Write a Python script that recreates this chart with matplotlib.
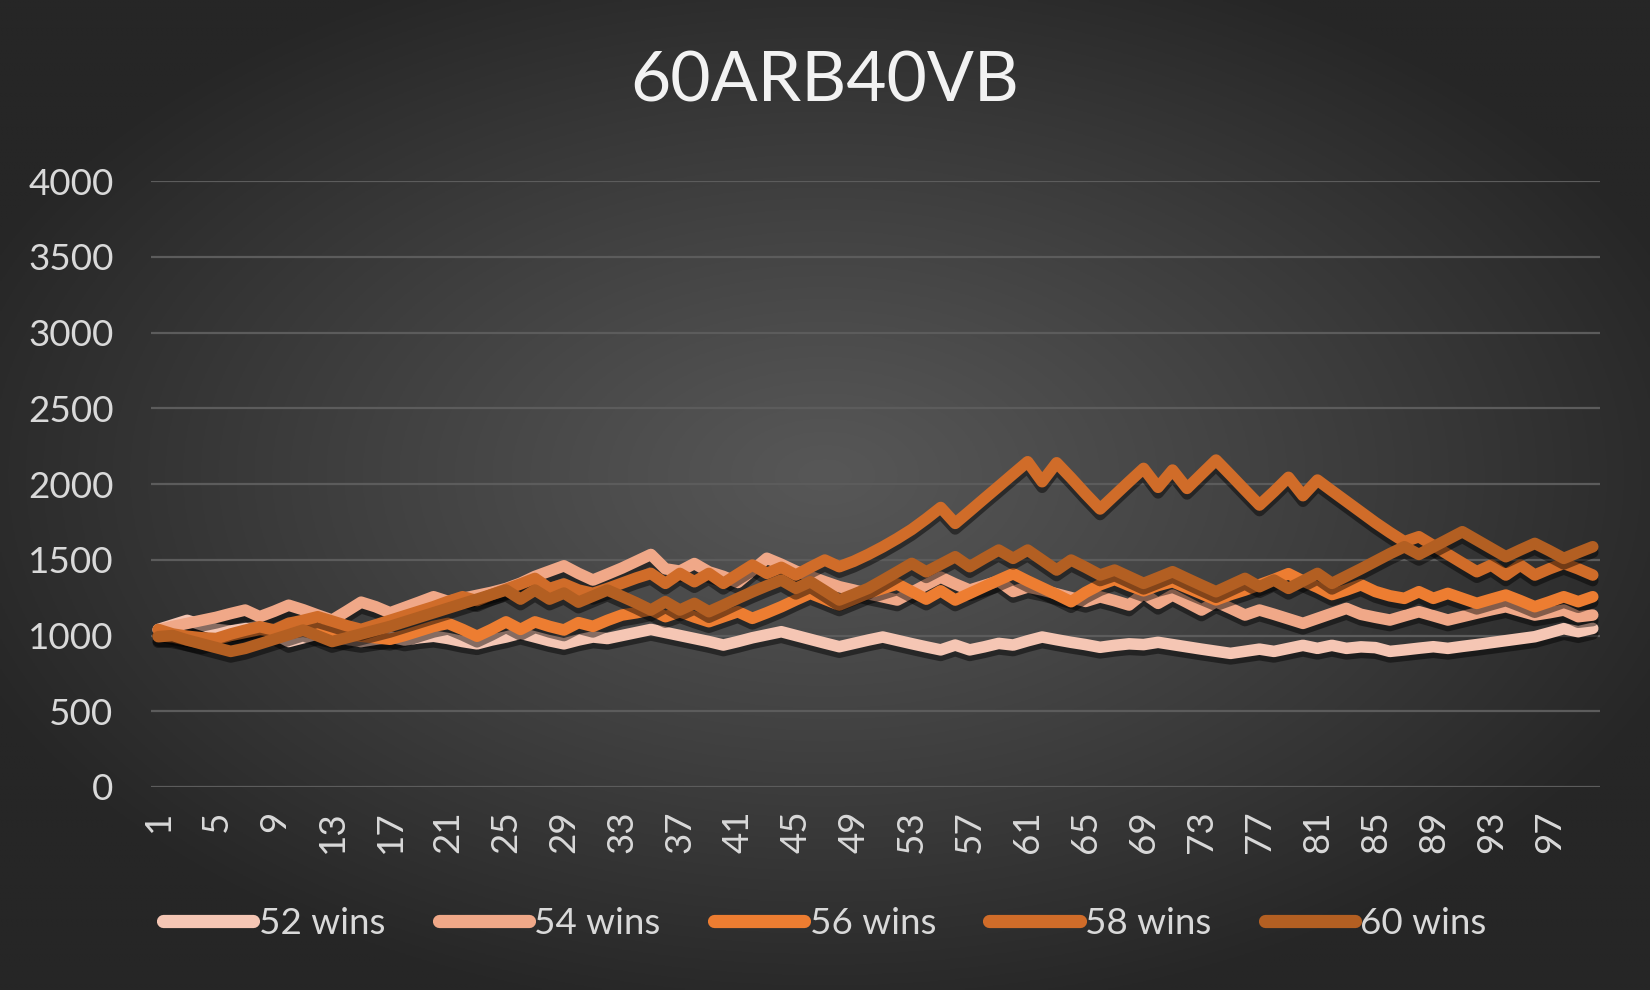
import numpy as np
import matplotlib
matplotlib.use("Agg")
import matplotlib.pyplot as plt
import matplotlib.patheffects as pe

plt.rcParams['font.family'] = ['Lato', 'DejaVu Sans']

# kategoriur 1..100
rounds = list(range(1, 101))
tick_labels = [str(i) for i in range(1, 101, 4)]

series_names = ["52 wins", "54 wins", "56 wins", "58 wins", "60 wins"]

s52 = [1040, 1070, 1100, 1070, 1040, 1030, 1045, 1060, 1010, 960,
       985, 1010, 990, 975, 960, 975, 990, 970, 985, 995,
       980, 960, 945, 970, 990, 1015, 990, 965, 945, 970,
       990, 980, 1000, 1020, 1040, 1020, 1000, 980, 960, 937,
       960, 985, 1005, 1025, 1000, 975, 950, 926, 948, 970,
       990, 968, 946, 925, 905, 937, 905, 925, 948, 937,
       965, 990, 972, 955, 940, 922, 935, 945, 940, 955,
       940, 925, 910, 896, 882, 896, 910, 895, 915, 935,
       915, 935, 915, 925, 920, 895, 905, 916, 926, 915,
       928, 940, 953, 966, 979, 992, 1018, 1045, 1025, 1047]

s54 = [1036, 1060, 1080, 1100, 1120, 1145, 1168, 1124, 1160, 1200,
       1170, 1135, 1102, 1160, 1220, 1190, 1150, 1185, 1220, 1256,
       1225, 1245, 1265, 1285, 1310, 1345, 1390, 1425, 1460, 1410,
       1366, 1405, 1445, 1490, 1535, 1440, 1425, 1475, 1420, 1390,
       1350, 1430, 1510, 1470, 1425, 1390, 1355, 1322, 1300, 1275,
       1255, 1234, 1285, 1335, 1385, 1340, 1300, 1330, 1360, 1290,
       1320, 1300, 1275, 1250, 1225, 1255, 1230, 1201, 1278, 1212,
       1267, 1218, 1168, 1223, 1180, 1135, 1168, 1140, 1110, 1080,
       1113, 1146, 1179, 1140, 1120, 1102, 1130, 1157, 1130, 1102,
       1125, 1148, 1170, 1190, 1162, 1135, 1150, 1168, 1124, 1135]

s56 = [1000, 990, 970, 950, 975, 1000, 1020, 1040, 1030, 1050,
       1065, 1045, 1025, 1010, 995, 985, 975, 1000, 1030, 1060,
       1080, 1040, 995, 1040, 1090, 1040, 1090, 1060, 1036, 1085,
       1060, 1100, 1135, 1150, 1170, 1124, 1157, 1122, 1091, 1124,
       1157, 1113, 1150, 1190, 1235, 1278, 1240, 1201, 1240, 1280,
       1310, 1340, 1290, 1240, 1295, 1234, 1278, 1322, 1366, 1408,
       1360, 1315, 1270, 1223, 1285, 1335, 1370, 1330, 1295, 1330,
       1355, 1315, 1275, 1235, 1270, 1300, 1335, 1370, 1408, 1360,
       1318, 1270, 1300, 1335, 1290, 1262, 1245, 1289, 1245, 1278,
       1245, 1212, 1240, 1267, 1230, 1190, 1222, 1256, 1223, 1256]

s58 = [1040, 1010, 995, 985, 980, 1010, 1035, 1058, 1036, 1080,
       1100, 1124, 1095, 1065, 1040, 1070, 1100, 1130, 1160, 1190,
       1225, 1256, 1230, 1270, 1305, 1340, 1377, 1310, 1340, 1300,
       1278, 1310, 1345, 1380, 1410, 1344, 1410, 1355, 1410, 1344,
       1405, 1465, 1410, 1450, 1399, 1450, 1498, 1454, 1490, 1535,
       1585, 1640, 1700, 1770, 1845, 1740, 1821, 1903, 1984, 2066,
       2147, 2015, 2140, 2040, 1935, 1835, 1925, 2015, 2103, 1978,
       2092, 1971, 2065, 2158, 2060, 1960, 1861, 1950, 2044, 1923,
       2026, 1955, 1885, 1815, 1745, 1680, 1619, 1652, 1594, 1536,
       1478, 1421, 1465, 1399, 1465, 1399, 1440, 1476, 1440, 1399]

s60 = [992, 1000, 970, 945, 920, 895, 915, 945, 975, 1005,
       1036, 998, 960, 985, 1010, 1035, 1060, 1090, 1120, 1150,
       1180, 1210, 1240, 1270, 1300, 1240, 1300, 1240, 1280, 1220,
       1260, 1300, 1258, 1215, 1168, 1223, 1168, 1212, 1157, 1200,
       1245, 1288, 1328, 1366, 1311, 1355, 1295, 1234, 1272, 1311,
       1365, 1420, 1476, 1420, 1470, 1520, 1454, 1510, 1564, 1509,
       1564, 1498, 1432, 1498, 1450, 1399, 1432, 1388, 1344, 1382,
       1421, 1376, 1332, 1289, 1333, 1377, 1322, 1366, 1311, 1360,
       1410, 1344, 1392, 1440, 1490, 1540, 1586, 1535, 1585, 1635,
       1685, 1630, 1575, 1520, 1565, 1608, 1560, 1509, 1548, 1586]

colors = ['#F5C6B4', '#F0A888', '#ED7D31', '#D06C29', '#B35F22']

fig = plt.figure(figsize=(16.5, 9.9), dpi=100)

# bakgrunnur - radial gradient
bg = fig.add_axes([0, 0, 1, 1], zorder=-10)
yy, xx = np.mgrid[0:1:400j, 0:1:660j]
r = np.sqrt(((xx - 0.5) / 0.62) ** 2 + ((yy - 0.48) / 0.62) ** 2)
t = np.clip(r / 0.9, 0, 1) ** 1.1
c0 = np.array([0x57, 0x57, 0x57]) / 255
c1 = np.array([0x26, 0x26, 0x26]) / 255
img = c0[None, None, :] * (1 - t[..., None]) + c1[None, None, :] * t[..., None]
bg.imshow(img, aspect='auto', extent=[0, 1, 0, 1], origin='upper')
bg.axis('off')

ax = fig.add_axes([151 / 1650, 1 - 787 / 990, (1600 - 151) / 1650, (787 - 181) / 990])
ax.set_facecolor('none')

allseries = [s52, s54, s56, s58, s60]
for name, vals, col in zip(series_names, allseries, colors):
    ax.plot(rounds, vals, color=col, lw=8.3, label=name,
            solid_capstyle='round', solid_joinstyle='round',
            path_effects=[pe.SimpleLineShadow(offset=(0, -4), shadow_color='black', alpha=0.45),
                          pe.Normal()])

ax.set_xlim(0.5, 100.5)
ax.set_ylim(0, 4000)
ax.set_yticks(range(0, 4001, 500))
ax.set_xticks(range(1, 101, 4))
ax.set_xticklabels(tick_labels, rotation=90)
ax.grid(axis='y', color='#5c5c5c', lw=1.6)
ax.set_axisbelow(True)
for s in ax.spines.values():
    s.set_visible(False)
ax.tick_params(axis='both', length=0, colors='#D9D9D9', labelsize=26.5)
ax.tick_params(axis='y', pad=27)
ax.tick_params(axis='x', pad=17)

fig.text(0.5, 1 - 82 / 990, "60ARB40VB", ha='center', va='center',
         fontsize=50, color='#F2F2F2')

leg = fig.legend(loc='center', bbox_to_anchor=(0.5, 1 - 923 / 990), ncol=5,
                 frameon=False, fontsize=26.5, handlelength=2.45, handletextpad=0.15,
                 columnspacing=1.45)
for h in leg.get_lines():
    h.set_linewidth(9.5)
    h.set_solid_capstyle('round')
    h.set_path_effects([])
for txt in leg.get_texts():
    txt.set_color('#D9D9D9')

fig.savefig("out.png", dpi=100)
